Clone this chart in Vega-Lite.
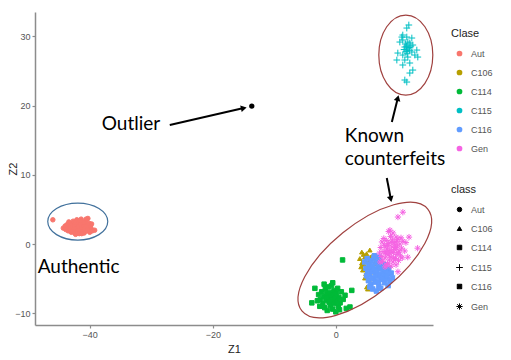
{
  "$schema": "https://vega.github.io/schema/vega-lite/v6.json",
  "width": 398,
  "height": 313,
  "autosize": {"type": "none"},
  "padding": {"left": 35, "top": 12, "right": 78, "bottom": 35},
  "background": "white",
  "config": {
    "view": {"stroke": null},
    "axis": {"grid": false, "domainColor": "#8c8c8c", "domainWidth": 1.5, "tickColor": "#8c8c8c", "tickSize": 3, "tickWidth": 1.2, "labelColor": "#555555", "labelFontSize": 9, "labelFont": "Liberation Sans", "titleFont": "Liberation Sans", "titleFontSize": 11, "titleFontWeight": "normal", "titleColor": "#222222", "labelPadding": 2},
    "legend": {"orient": "none", "padding": 0, "titleFont": "Liberation Sans", "titleFontSize": 11, "titleFontWeight": "normal", "titleColor": "#222222", "labelFont": "Liberation Sans", "labelFontSize": 9, "labelColor": "#555555", "symbolOffset": 4, "labelOffset": 7}
  },
  "data": {"values": [
    {"Z1": -44.3, "Z2": 2.3, "Clase": "Aut"}, {"Z1": -44.0, "Z2": 2.6, "Clase": "Aut"}, {"Z1": -43.9, "Z2": 2.1, "Clase": "Aut"}, {"Z1": -43.7, "Z2": 2.8, "Clase": "Aut"}, {"Z1": -43.6, "Z2": 2.4, "Clase": "Aut"}, {"Z1": -43.5, "Z2": 1.9, "Clase": "Aut"}, {"Z1": -43.3, "Z2": 3.0, "Clase": "Aut"}, {"Z1": -43.2, "Z2": 2.5, "Clase": "Aut"}, {"Z1": -43.1, "Z2": 2.2, "Clase": "Aut"}, {"Z1": -43.0, "Z2": 1.7, "Clase": "Aut"}, {"Z1": -42.9, "Z2": 2.9, "Clase": "Aut"}, {"Z1": -42.8, "Z2": 2.4, "Clase": "Aut"}, {"Z1": -42.7, "Z2": 3.3, "Clase": "Aut"}, {"Z1": -42.6, "Z2": 2.0, "Clase": "Aut"}, {"Z1": -42.5, "Z2": 2.7, "Clase": "Aut"}, {"Z1": -42.4, "Z2": 1.6, "Clase": "Aut"}, {"Z1": -42.3, "Z2": 3.1, "Clase": "Aut"}, {"Z1": -42.2, "Z2": 2.3, "Clase": "Aut"}, {"Z1": -42.1, "Z2": 3.5, "Clase": "Aut"}, {"Z1": -42.0, "Z2": 2.8, "Clase": "Aut"}, {"Z1": -42.0, "Z2": 1.9, "Clase": "Aut"}, {"Z1": -41.9, "Z2": 2.5, "Clase": "Aut"}, {"Z1": -41.8, "Z2": 3.2, "Clase": "Aut"}, {"Z1": -41.7, "Z2": 1.5, "Clase": "Aut"}, {"Z1": -41.6, "Z2": 2.1, "Clase": "Aut"}, {"Z1": -41.5, "Z2": 2.9, "Clase": "Aut"}, {"Z1": -41.4, "Z2": 3.6, "Clase": "Aut"}, {"Z1": -41.3, "Z2": 2.4, "Clase": "Aut"}, {"Z1": -41.2, "Z2": 1.8, "Clase": "Aut"}, {"Z1": -41.1, "Z2": 3.0, "Clase": "Aut"}, {"Z1": -41.0, "Z2": 2.6, "Clase": "Aut"}, {"Z1": -40.9, "Z2": 1.6, "Clase": "Aut"}, {"Z1": -40.8, "Z2": 2.2, "Clase": "Aut"}, {"Z1": -40.7, "Z2": 3.3, "Clase": "Aut"}, {"Z1": -40.6, "Z2": 2.8, "Clase": "Aut"}, {"Z1": -40.5, "Z2": 1.9, "Clase": "Aut"}, {"Z1": -40.4, "Z2": 2.5, "Clase": "Aut"}, {"Z1": -40.3, "Z2": 3.7, "Clase": "Aut"}, {"Z1": -40.2, "Z2": 2.1, "Clase": "Aut"}, {"Z1": -40.1, "Z2": 3.0, "Clase": "Aut"}, {"Z1": -40.0, "Z2": 1.7, "Clase": "Aut"}, {"Z1": -39.9, "Z2": 2.6, "Clase": "Aut"}, {"Z1": -39.8, "Z2": 2.3, "Clase": "Aut"}, {"Z1": -39.7, "Z2": 2.9, "Clase": "Aut"}, {"Z1": -39.6, "Z2": 1.9, "Clase": "Aut"}, {"Z1": -39.2, "Z2": 2.0, "Clase": "Aut"}, {"Z1": -46.0, "Z2": 3.5, "Clase": "Aut"}, {"Z1": -43.4, "Z2": 3.2, "Clase": "Aut"}, {"Z1": -42.3, "Z2": 1.4, "Clase": "Aut"}, {"Z1": -41.6, "Z2": 3.4, "Clase": "Aut"}, {"Z1": -40.9, "Z2": 3.1, "Clase": "Aut"}, {"Z1": -40.4, "Z2": 2.0, "Clase": "Aut"}, {"Z1": -42.8, "Z2": 1.8, "Clase": "Aut"}, {"Z1": -41.3, "Z2": 1.5, "Clase": "Aut"}, {"Z1": -40.6, "Z2": 3.6, "Clase": "Aut"},
    {"Z1": 4.23, "Z2": -1.16, "Clase": "C106"}, {"Z1": 5.53, "Z2": -0.87, "Clase": "C106"}, {"Z1": 4.72, "Z2": -1.88, "Clase": "C106"}, {"Z1": 4.23, "Z2": -2.75, "Clase": "C106"}, {"Z1": 4.39, "Z2": -3.76, "Clase": "C106"}, {"Z1": 4.72, "Z2": -4.91, "Clase": "C106"}, {"Z1": 5.04, "Z2": -6.21, "Clase": "C106"}, {"Z1": 5.85, "Z2": -4.05, "Clase": "C106"}, {"Z1": 5.53, "Z2": -2.31, "Clase": "C106"}, {"Z1": 6.02, "Z2": -1.59, "Clase": "C106"}, {"Z1": 4.8, "Z2": -2.5, "Clase": "C106"}, {"Z1": 5.2, "Z2": -3.2, "Clase": "C106"}, {"Z1": 4.6, "Z2": -3.0, "Clase": "C106"}, {"Z1": 5.0, "Z2": -1.4, "Clase": "C106"}, {"Z1": 5.7, "Z2": -3.4, "Clase": "C106"}, {"Z1": 4.9, "Z2": -4.3, "Clase": "C106"}, {"Z1": 6.3, "Z2": -2.8, "Clase": "C106"}, {"Z1": 5.4, "Z2": -5.2, "Clase": "C106"}, {"Z1": 3.9, "Z2": -2.1, "Clase": "C106"}, {"Z1": 5.2, "Z2": -6.5, "Clase": "C106"}, {"Z1": 4.5, "Z2": -1.5, "Clase": "C106"}, {"Z1": 6.1, "Z2": -3.6, "Clase": "C106"}, {"Z1": 5.6, "Z2": -1.9, "Clase": "C106"}, {"Z1": 4.1, "Z2": -3.3, "Clase": "C106"},
    {"Z1": -3.4, "Z2": -6.4, "Clase": "C114"}, {"Z1": -3.9, "Z2": -8.5, "Clase": "C114"}, {"Z1": 1.1, "Z2": -2.3, "Clase": "C114"}, {"Z1": 2.6, "Z2": -6.7, "Clase": "C114"}, {"Z1": 2.3, "Z2": -9.1, "Clase": "C114"}, {"Z1": -2.8, "Z2": -7.3, "Clase": "C114"}, {"Z1": -2.5, "Z2": -8.0, "Clase": "C114"}, {"Z1": -2.3, "Z2": -6.9, "Clase": "C114"}, {"Z1": -2.1, "Z2": -8.6, "Clase": "C114"}, {"Z1": -2.0, "Z2": -7.6, "Clase": "C114"}, {"Z1": -1.8, "Z2": -9.2, "Clase": "C114"}, {"Z1": -1.7, "Z2": -6.5, "Clase": "C114"}, {"Z1": -1.6, "Z2": -8.1, "Clase": "C114"}, {"Z1": -1.5, "Z2": -7.2, "Clase": "C114"}, {"Z1": -1.4, "Z2": -9.6, "Clase": "C114"}, {"Z1": -1.3, "Z2": -7.8, "Clase": "C114"}, {"Z1": -1.2, "Z2": -6.2, "Clase": "C114"}, {"Z1": -1.1, "Z2": -8.4, "Clase": "C114"}, {"Z1": -1.0, "Z2": -7.0, "Clase": "C114"}, {"Z1": -0.9, "Z2": -8.9, "Clase": "C114"}, {"Z1": -0.8, "Z2": -7.5, "Clase": "C114"}, {"Z1": -0.7, "Z2": -6.0, "Clase": "C114"}, {"Z1": -0.6, "Z2": -8.2, "Clase": "C114"}, {"Z1": -0.5, "Z2": -9.4, "Clase": "C114"}, {"Z1": -0.4, "Z2": -7.3, "Clase": "C114"}, {"Z1": -0.3, "Z2": -6.7, "Clase": "C114"}, {"Z1": -0.2, "Z2": -8.6, "Clase": "C114"}, {"Z1": -0.1, "Z2": -7.9, "Clase": "C114"}, {"Z1": 0.0, "Z2": -9.8, "Clase": "C114"}, {"Z1": 0.1, "Z2": -7.1, "Clase": "C114"}, {"Z1": 0.2, "Z2": -8.3, "Clase": "C114"}, {"Z1": 0.3, "Z2": -6.4, "Clase": "C114"}, {"Z1": 0.4, "Z2": -9.0, "Clase": "C114"}, {"Z1": 0.5, "Z2": -7.7, "Clase": "C114"}, {"Z1": 0.7, "Z2": -8.5, "Clase": "C114"}, {"Z1": 0.9, "Z2": -6.9, "Clase": "C114"}, {"Z1": 1.2, "Z2": -8.0, "Clase": "C114"}, {"Z1": 1.5, "Z2": -7.4, "Clase": "C114"}, {"Z1": -2.6, "Z2": -9.0, "Clase": "C114"}, {"Z1": -1.9, "Z2": -5.8, "Clase": "C114"}, {"Z1": 0.6, "Z2": -9.5, "Clase": "C114"}, {"Z1": -0.5, "Z2": -5.6, "Clase": "C114"}, {"Z1": 1.7, "Z2": -9.3, "Clase": "C114"}, {"Z1": -3.0, "Z2": -8.2, "Clase": "C114"},
    {"Z1": 11.87, "Z2": 31.65, "Clase": "C115"}, {"Z1": 11.54, "Z2": 31.21, "Clase": "C115"}, {"Z1": 10.89, "Z2": 30.2, "Clase": "C115"}, {"Z1": 10.73, "Z2": 29.91, "Clase": "C115"}, {"Z1": 11.54, "Z2": 29.91, "Clase": "C115"}, {"Z1": 12.36, "Z2": 29.77, "Clase": "C115"}, {"Z1": 10.89, "Z2": 29.48, "Clase": "C115"}, {"Z1": 10.41, "Z2": 29.19, "Clase": "C115"}, {"Z1": 11.71, "Z2": 29.19, "Clase": "C115"}, {"Z1": 12.03, "Z2": 29.05, "Clase": "C115"}, {"Z1": 12.52, "Z2": 28.76, "Clase": "C115"}, {"Z1": 11.22, "Z2": 28.47, "Clase": "C115"}, {"Z1": 11.71, "Z2": 28.32, "Clase": "C115"}, {"Z1": 11.54, "Z2": 28.03, "Clase": "C115"}, {"Z1": 13.17, "Z2": 28.03, "Clase": "C115"}, {"Z1": 12.36, "Z2": 27.75, "Clase": "C115"}, {"Z1": 10.08, "Z2": 27.6, "Clase": "C115"}, {"Z1": 10.89, "Z2": 27.31, "Clase": "C115"}, {"Z1": 12.85, "Z2": 27.31, "Clase": "C115"}, {"Z1": 11.71, "Z2": 27.02, "Clase": "C115"}, {"Z1": 9.92, "Z2": 26.59, "Clase": "C115"}, {"Z1": 11.22, "Z2": 26.59, "Clase": "C115"}, {"Z1": 13.33, "Z2": 27.02, "Clase": "C115"}, {"Z1": 12.03, "Z2": 26.16, "Clase": "C115"}, {"Z1": 10.89, "Z2": 25.87, "Clase": "C115"}, {"Z1": 12.52, "Z2": 25.14, "Clase": "C115"}, {"Z1": 12.03, "Z2": 24.71, "Clase": "C115"}, {"Z1": 11.22, "Z2": 23.7, "Clase": "C115"}, {"Z1": 11.54, "Z2": 23.41, "Clase": "C115"}, {"Z1": 11.5, "Z2": 28.6, "Clase": "C115"}, {"Z1": 11.9, "Z2": 28.4, "Clase": "C115"}, {"Z1": 11.3, "Z2": 28.9, "Clase": "C115"}, {"Z1": 12.0, "Z2": 28.0, "Clase": "C115"}, {"Z1": 11.6, "Z2": 27.5, "Clase": "C115"}, {"Z1": 11.1, "Z2": 28.1, "Clase": "C115"}, {"Z1": 12.2, "Z2": 28.6, "Clase": "C115"}, {"Z1": 11.4, "Z2": 27.8, "Clase": "C115"},
    {"Z1": 4.7, "Z2": -2.6, "Clase": "C116"}, {"Z1": 4.9, "Z2": -3.5, "Clase": "C116"}, {"Z1": 5.0, "Z2": -4.6, "Clase": "C116"}, {"Z1": 5.1, "Z2": -2.1, "Clase": "C116"}, {"Z1": 5.2, "Z2": -3.9, "Clase": "C116"}, {"Z1": 5.3, "Z2": -5.3, "Clase": "C116"}, {"Z1": 5.4, "Z2": -2.9, "Clase": "C116"}, {"Z1": 5.5, "Z2": -4.4, "Clase": "C116"}, {"Z1": 5.6, "Z2": -3.3, "Clase": "C116"}, {"Z1": 5.7, "Z2": -5.8, "Clase": "C116"}, {"Z1": 5.8, "Z2": -2.4, "Clase": "C116"}, {"Z1": 5.9, "Z2": -4.0, "Clase": "C116"}, {"Z1": 6.0, "Z2": -3.1, "Clase": "C116"}, {"Z1": 6.1, "Z2": -4.9, "Clase": "C116"}, {"Z1": 6.2, "Z2": -2.0, "Clase": "C116"}, {"Z1": 6.3, "Z2": -3.6, "Clase": "C116"}, {"Z1": 6.4, "Z2": -5.5, "Clase": "C116"}, {"Z1": 6.5, "Z2": -4.2, "Clase": "C116"}, {"Z1": 6.6, "Z2": -2.7, "Clase": "C116"}, {"Z1": 6.7, "Z2": -3.8, "Clase": "C116"}, {"Z1": 6.8, "Z2": -4.7, "Clase": "C116"}, {"Z1": 6.9, "Z2": -3.2, "Clase": "C116"}, {"Z1": 7.0, "Z2": -6.1, "Clase": "C116"}, {"Z1": 7.1, "Z2": -2.5, "Clase": "C116"}, {"Z1": 7.2, "Z2": -4.4, "Clase": "C116"}, {"Z1": 7.3, "Z2": -3.5, "Clase": "C116"}, {"Z1": 7.4, "Z2": -5.1, "Clase": "C116"}, {"Z1": 7.5, "Z2": -2.9, "Clase": "C116"}, {"Z1": 7.6, "Z2": -4.0, "Clase": "C116"}, {"Z1": 7.7, "Z2": -4.8, "Clase": "C116"}, {"Z1": 7.8, "Z2": -3.3, "Clase": "C116"}, {"Z1": 7.9, "Z2": -5.6, "Clase": "C116"}, {"Z1": 8.0, "Z2": -4.3, "Clase": "C116"}, {"Z1": 8.1, "Z2": -3.0, "Clase": "C116"}, {"Z1": 8.2, "Z2": -5.0, "Clase": "C116"}, {"Z1": 8.3, "Z2": -3.9, "Clase": "C116"}, {"Z1": 8.4, "Z2": -4.6, "Clase": "C116"}, {"Z1": 8.6, "Z2": -3.5, "Clase": "C116"}, {"Z1": 8.8, "Z2": -5.3, "Clase": "C116"}, {"Z1": 9.0, "Z2": -4.2, "Clase": "C116"}, {"Z1": 9.2, "Z2": -4.9, "Clase": "C116"}, {"Z1": 6.0, "Z2": -6.5, "Clase": "C116"}, {"Z1": 6.6, "Z2": -6.8, "Clase": "C116"}, {"Z1": 5.5, "Z2": -6.2, "Clase": "C116"}, {"Z1": 7.3, "Z2": -6.4, "Clase": "C116"}, {"Z1": 8.5, "Z2": -6.0, "Clase": "C116"}, {"Z1": 6.3, "Z2": -1.7, "Clase": "C116"}, {"Z1": 7.0, "Z2": -1.9, "Clase": "C116"}, {"Z1": 5.8, "Z2": -5.0, "Clase": "C116"}, {"Z1": 6.9, "Z2": -5.4, "Clase": "C116"},
    {"Z1": 7.3, "Z2": -0.5, "Clase": "Gen"}, {"Z1": 7.4, "Z2": -1.8, "Clase": "Gen"}, {"Z1": 7.5, "Z2": 0.3, "Clase": "Gen"}, {"Z1": 7.6, "Z2": -2.5, "Clase": "Gen"}, {"Z1": 7.7, "Z2": -1.1, "Clase": "Gen"}, {"Z1": 7.8, "Z2": 0.8, "Clase": "Gen"}, {"Z1": 7.9, "Z2": -0.2, "Clase": "Gen"}, {"Z1": 8.0, "Z2": -2.0, "Clase": "Gen"}, {"Z1": 8.1, "Z2": -1.4, "Clase": "Gen"}, {"Z1": 8.2, "Z2": 0.5, "Clase": "Gen"}, {"Z1": 8.3, "Z2": -0.7, "Clase": "Gen"}, {"Z1": 8.4, "Z2": -2.8, "Clase": "Gen"}, {"Z1": 8.5, "Z2": -1.6, "Clase": "Gen"}, {"Z1": 8.6, "Z2": 0.1, "Clase": "Gen"}, {"Z1": 8.7, "Z2": -2.3, "Clase": "Gen"}, {"Z1": 8.8, "Z2": -0.9, "Clase": "Gen"}, {"Z1": 8.9, "Z2": 1.1, "Clase": "Gen"}, {"Z1": 9.0, "Z2": -1.9, "Clase": "Gen"}, {"Z1": 9.1, "Z2": -0.4, "Clase": "Gen"}, {"Z1": 9.2, "Z2": 0.6, "Clase": "Gen"}, {"Z1": 9.3, "Z2": -2.6, "Clase": "Gen"}, {"Z1": 9.4, "Z2": -1.2, "Clase": "Gen"}, {"Z1": 9.5, "Z2": 0.2, "Clase": "Gen"}, {"Z1": 9.6, "Z2": -0.8, "Clase": "Gen"}, {"Z1": 9.7, "Z2": -2.1, "Clase": "Gen"}, {"Z1": 9.8, "Z2": 1.0, "Clase": "Gen"}, {"Z1": 9.9, "Z2": -1.5, "Clase": "Gen"}, {"Z1": 10.0, "Z2": -0.3, "Clase": "Gen"}, {"Z1": 10.1, "Z2": 0.7, "Clase": "Gen"}, {"Z1": 10.2, "Z2": -2.4, "Clase": "Gen"}, {"Z1": 10.3, "Z2": -1.0, "Clase": "Gen"}, {"Z1": 10.4, "Z2": 0.0, "Clase": "Gen"}, {"Z1": 10.5, "Z2": -1.7, "Clase": "Gen"}, {"Z1": 10.6, "Z2": 0.9, "Clase": "Gen"}, {"Z1": 10.7, "Z2": -0.6, "Clase": "Gen"}, {"Z1": 10.8, "Z2": -2.0, "Clase": "Gen"}, {"Z1": 10.9, "Z2": 0.4, "Clase": "Gen"}, {"Z1": 8.3, "Z2": -3.0, "Clase": "Gen"}, {"Z1": 9.0, "Z2": -3.2, "Clase": "Gen"}, {"Z1": 9.8, "Z2": -3.0, "Clase": "Gen"}, {"Z1": 9.3, "Z2": 1.6, "Clase": "Gen"}, {"Z1": 8.6, "Z2": 1.8, "Clase": "Gen"}, {"Z1": 10.9, "Z2": 4.6, "Clase": "Gen"}, {"Z1": 10.1, "Z2": 3.9, "Clase": "Gen"}, {"Z1": 11.9, "Z2": 1.0, "Clase": "Gen"}, {"Z1": 13.3, "Z2": -0.6, "Clase": "Gen"}, {"Z1": 11.7, "Z2": -1.9, "Clase": "Gen"}, {"Z1": 10.1, "Z2": -4.0, "Clase": "Gen"}, {"Z1": 7.2, "Z2": -2.6, "Clase": "Gen"}, {"Z1": 8.0, "Z2": -3.3, "Clase": "Gen"}, {"Z1": 8.8, "Z2": 2.0, "Clase": "Gen"}, {"Z1": 11.2, "Z2": -1.0, "Clase": "Gen"}, {"Z1": 11.4, "Z2": 0.2, "Clase": "Gen"}, {"Z1": 7.1, "Z2": -1.3, "Clase": "Gen"}, {"Z1": 9.1, "Z2": -1.2, "Clase": "Gen"}, {"Z1": 9.6, "Z2": -0.1, "Clase": "Gen"}, {"Z1": 8.4, "Z2": -0.2, "Clase": "Gen"}, {"Z1": 9.0, "Z2": 0.3, "Clase": "Gen"}, {"Z1": 9.7, "Z2": -0.5, "Clase": "Gen"}, {"Z1": 8.7, "Z2": -1.3, "Clase": "Gen"}, {"Z1": 9.4, "Z2": -2.0, "Clase": "Gen"}, {"Z1": 10.2, "Z2": -1.2, "Clase": "Gen"}, {"Z1": 8.2, "Z2": -1.1, "Clase": "Gen"}, {"Z1": 9.9, "Z2": 0.4, "Clase": "Gen"}
  ]},
  "layer": [
    {
      "mark": {"type": "point", "filled": true, "opacity": 1, "size": 20, "strokeWidth": 1},
      "encoding": {
        "x": {"field": "Z1", "type": "quantitative", "scale": {"domain": [-48.9, 15.8], "nice": false, "zero": false}, "axis": {"title": "Z1", "values": [-40, -20, 0], "titlePadding": 4}},
        "y": {"field": "Z2", "type": "quantitative", "scale": {"domain": [-11.7, 33.53], "nice": false, "zero": false}, "axis": {"title": "Z2", "values": [-10, 0, 10, 20, 30], "titlePadding": -4}},
        "color": {"field": "Clase", "type": "nominal", "scale": {"range": ["#F8766D", "#B79F00", "#00BA38", "#00BFC4", "#619CFF", "#F564E3"]}, "legend": {"legendX": 416, "legendY": 16, "symbolType": "circle", "symbolSize": 18, "symbolStrokeColor": "transparent", "titlePadding": 10, "rowPadding": 8}},
        "stroke": {"field": "Clase", "type": "nominal", "scale": {"range": ["#F8766D", "#B79F00", "#00BA38", "#00BFC4", "#619CFF", "#F564E3"]}, "legend": null},
        "shape": {"field": "Clase", "type": "nominal", "scale": {"domain": ["Aut", "C106", "C114", "C115", "C116", "Gen"], "range": ["circle", "triangle-up", "square", "M-1.5,0L1.5,0M0,-1.5L0,1.5", "M-1,-1L1,-1L1,1L-1,1ZM-1,-1L1,1M-1,1L1,-1", "M-1.4,0L1.4,0M0,-1.4L0,1.4M-1,-1L1,1M-1,1L1,-1"]}, "legend": {"title": "class", "legendX": 416, "legendY": 172, "symbolSize": 20, "symbolFillColor": "black", "symbolStrokeColor": "black", "symbolStrokeWidth": 1, "titlePadding": 10, "rowPadding": 9}}
      }
    },
    {
      "data": {"values": [{"Z1": -13.66, "Z2": 19.94}]},
      "mark": {"type": "point", "filled": true, "opacity": 1, "size": 28, "color": "black"},
      "encoding": {"x": {"field": "Z1", "type": "quantitative"}, "y": {"field": "Z2", "type": "quantitative"}}
    },
    {
      "data": {"values": [{"Z1": -41.95, "Z2": 3.25}]},
      "mark": {"type": "point", "filled": false, "opacity": 1, "shape": "M1,0C1,0.341 0.552,0.617 0,0.617C-0.552,0.617 -1,0.341 -1,0C-1,-0.341 -0.552,-0.617 0,-0.617C0.552,-0.617 1,-0.341 1,0Z", "size": 3600, "color": "#41719C", "strokeWidth": 1.2},
      "encoding": {"x": {"field": "Z1", "type": "quantitative"}, "y": {"field": "Z2", "type": "quantitative"}}
    },
    {
      "data": {"values": [{"Z1": 11.38, "Z2": 27.31}]},
      "mark": {"type": "point", "filled": false, "opacity": 1, "shape": "M1,0C1,0.818 0.552,1.481 0,1.481C-0.552,1.481 -1,0.818 -1,0C-1,-0.818 -0.552,-1.481 0,-1.481C0.552,-1.481 1,-0.818 1,0Z", "size": 2916, "color": "#A0413F", "strokeWidth": 1.2},
      "encoding": {"x": {"field": "Z1", "type": "quantitative"}, "y": {"field": "Z2", "type": "quantitative"}}
    },
    {
      "data": {"values": [{"Z1": 4.72, "Z2": -2.31}]},
      "mark": {"type": "point", "filled": false, "opacity": 1, "shape": "M1,0C1,0.239 0.552,0.432 0,0.432C-0.552,0.432 -1,0.239 -1,0C-1,-0.239 -0.552,-0.432 0,-0.432C0.552,-0.432 1,-0.239 1,0Z", "size": 26244, "angle": 321, "color": "#A0413F", "strokeWidth": 1.2},
      "encoding": {"x": {"field": "Z1", "type": "quantitative"}, "y": {"field": "Z2", "type": "quantitative"}}
    },
    {
      "data": {"values": [
        {"Z1": -26.99, "Z2": 17.2, "Z1e": -14.96, "Z2e": 19.65},
        {"Z1": 9.11, "Z2": 17.63, "Z1e": 10.08, "Z2e": 21.1},
        {"Z1": 8.29, "Z2": 9.54, "Z1e": 8.94, "Z2e": 6.5}
      ]},
      "mark": {"type": "rule", "color": "black", "strokeWidth": 2},
      "encoding": {"x": {"field": "Z1", "type": "quantitative"}, "y": {"field": "Z2", "type": "quantitative"}, "x2": {"field": "Z1e"}, "y2": {"field": "Z2e"}}
    },
    {
      "data": {"values": [{"Z1": -14.96, "Z2": 19.65}]},
      "mark": {"type": "point", "shape": "triangle-right", "filled": true, "opacity": 1, "size": 45, "color": "black", "angle": 347},
      "encoding": {"x": {"field": "Z1", "type": "quantitative"}, "y": {"field": "Z2", "type": "quantitative"}}
    },
    {
      "data": {"values": [{"Z1": 10.08, "Z2": 21.1}]},
      "mark": {"type": "point", "shape": "triangle-right", "filled": true, "opacity": 1, "size": 45, "color": "black", "angle": 284.5},
      "encoding": {"x": {"field": "Z1", "type": "quantitative"}, "y": {"field": "Z2", "type": "quantitative"}}
    },
    {
      "data": {"values": [{"Z1": 8.94, "Z2": 6.5}]},
      "mark": {"type": "point", "shape": "triangle-right", "filled": true, "opacity": 1, "size": 45, "color": "black", "angle": 78.2},
      "encoding": {"x": {"field": "Z1", "type": "quantitative"}, "y": {"field": "Z2", "type": "quantitative"}}
    },
    {
      "data": {"values": [
        {"Z1": -38.05, "Z2": 16.47, "label": "Outlier"},
        {"Z1": 1.46, "Z2": 14.74, "label": "Known"},
        {"Z1": 1.46, "Z2": 11.42, "label": "counterfeits"},
        {"Z1": -48.46, "Z2": -4.19, "label": "Authentic"}
      ]},
      "mark": {"type": "text", "align": "left", "baseline": "alphabetic", "font": "Lato", "fontSize": 19, "color": "black"},
      "encoding": {"x": {"field": "Z1", "type": "quantitative"}, "y": {"field": "Z2", "type": "quantitative"}, "text": {"field": "label"}}
    }
  ]
}
